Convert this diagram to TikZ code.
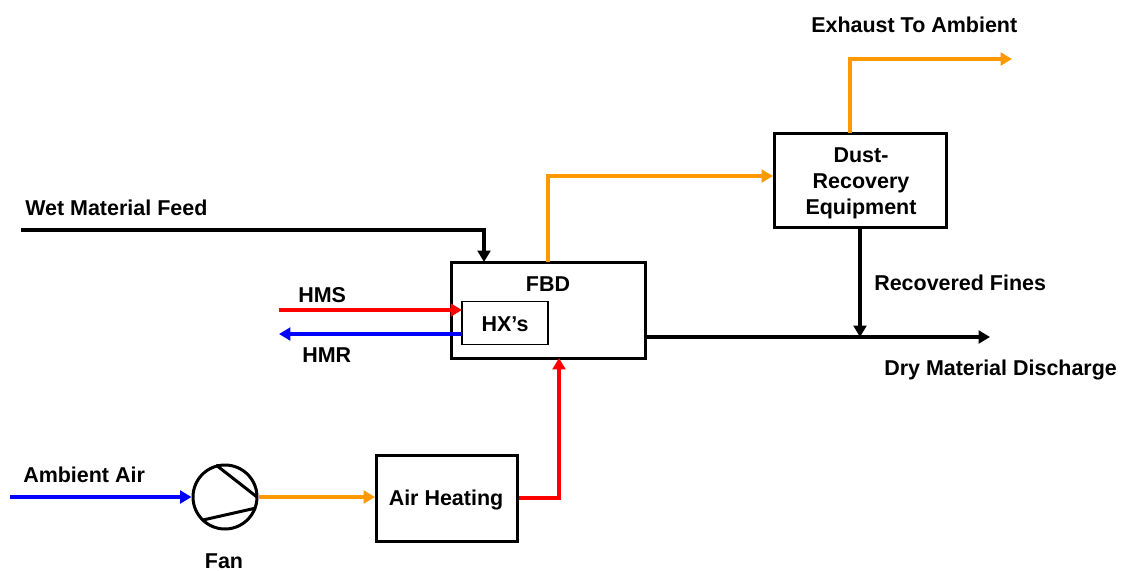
\documentclass[tikz,border=0pt]{standalone}
\usepackage{fontspec}
\setmainfont{Liberation Sans}
\usetikzlibrary{arrows.meta,calc,positioning}
\definecolor{hotred}{RGB}{255,0,0}
\definecolor{coldblue}{RGB}{0,0,255}
\definecolor{airorange}{RGB}{255,153,0}
\tikzset{
  x=0.75pt,y=-0.75pt,
  box/.style={draw=black,line width=2.25pt,fill=white,inner sep=0pt},
  lab/.style={inner sep=0pt,align=center,font=\bfseries\fontsize{16.1}{19.5}\selectfont},
  flow/.style={line width=2.6pt,-{Triangle[length=8.5pt,width=9.5pt]}},
  plain/.style={line width=2.25pt},
}
\begin{document}
\begin{tikzpicture}
\useasboundingbox (0,0) rectangle (1121,571);
% equipment
\node[box,minimum width=145.5pt,minimum height=72pt] (fbd) at (548,310) {};
\node[lab] (fbdl) at (548,284) {FBD};
\node[box,line width=1.1pt,minimum width=64.5pt,minimum height=32.5pt] (hx) at (505,323) {};
\node[lab] (hxl) at (505,324) {HX’s};
\node[box,minimum width=129.5pt,minimum height=70.5pt] (dust) at (860.5,180.5) {};
\node[lab] (dustl) at (861,183) {Dust-\\Recovery\\Equipment};
\node[box,minimum width=105.75pt,minimum height=64.5pt] (heat) at (446.5,498) {};
\node[lab] (heatl) at (446,500) {Air Heating};
\node[circle,draw=black,line width=2.25pt,minimum size=48pt,inner sep=0pt] (fan) at (225,497) {};
% fan blades
\coordinate (bladeA) at (216,465);
\coordinate (bladeB) at (257,497);
\coordinate (bladeC) at (203,520);
\coordinate (bladeD) at (256,508);
\draw[plain] (bladeA) -- (bladeB);
\draw[plain] (bladeC) -- (bladeD);
% free ends
\coordinate (wetS) at (21,230);
\coordinate (hmsS) at (279,310);
\coordinate (hmrE) at (279,334);
\coordinate (airS) at (10,497);
\coordinate (exhE) at (1012,59);
\coordinate (dryE) at (990,337);
\coordinate (jn) at (860,337);
\coordinate (dustIn) at (773,176);
\coordinate (heatIn) at (375,497);
% flows
\draw[flow,draw=black] (wetS) -- (484,230) -- (484,262);
\draw[flow,hotred] (hmsS) -- (462,310);
\draw[flow,coldblue] (462,334) -- (hmrE);
\draw[flow,coldblue] (airS) -- (fan.west);
\draw[flow,airorange] (fan.east) -- (heatIn);
\draw[flow,hotred] (heat.east) -- (559,498) -- (559,358);
\draw[flow,airorange] (548,262) -- (548,176) -- (dustIn);
\draw[flow,airorange] (850,133) -- (850,59) -- (exhE);
\draw[flow,black] (646,337) -- (dryE);
\draw[flow,black] (860,227) -- (jn);
% labels
\node[lab,anchor=west] (l1) at (25,208) {Wet Material Feed};
\node[lab,anchor=west] (l2) at (298,295) {HMS};
\node[lab,anchor=west] (l3) at (302,355) {HMR};
\node[lab,anchor=west] (l4) at (23,475) {Ambient Air};
\node[lab] (l5) at (224,561) {Fan};
\node[lab,anchor=west] (l6) at (811,25) {Exhaust To Ambient};
\node[lab,anchor=west] (l7) at (874,283) {Recovered Fines};
\node[lab,anchor=west] (l8) at (884,370) {Dry Material Discharge};
\end{tikzpicture}
\end{document}
